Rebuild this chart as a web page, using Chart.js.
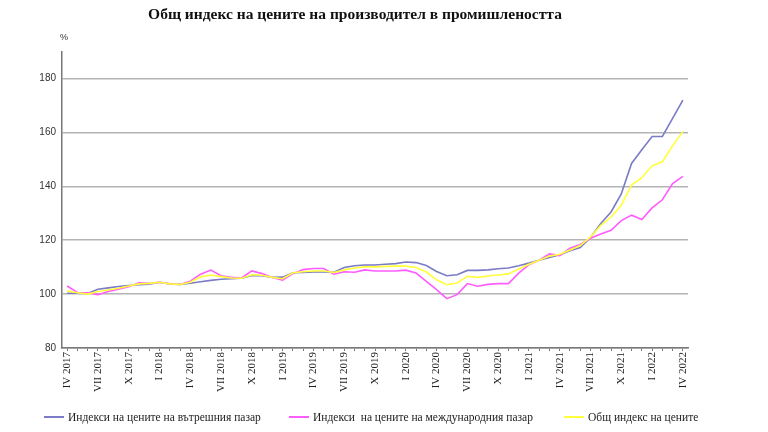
<!DOCTYPE html>
<html>
<head>
<meta charset="utf-8">
<script src="https://cdn.jsdelivr.net/npm/chart.js@4"></script>
<style>
  html, body { margin: 0; padding: 0; background: #fff; }
  #wrap { width: 768px; height: 432px; position: relative; }
  #legenda { position: absolute; left: 0; top: 409px; width: 768px; height: 18px;
             font: 11.5px "Liberation Serif"; color: #222; }
  .item { position: absolute; top: 0; white-space: nowrap; line-height: 16px; }
  .item i { display: inline-block; width: 20px; height: 2px; vertical-align: middle;
            margin-right: 4px; position: relative; top: -1px; }
</style>
</head>
<body>
<div id="wrap">
  <canvas id="chart"></canvas>
  <div id="legenda"></div>
</div>
<script>
// Месеци: IV 2017 ... IV 2022 (61 точки), етикет на всеки 3 месеца
const tickLabels = ['IV 2017', 'VII 2017', 'X 2017', 'I 2018', 'IV 2018', 'VII 2018', 'X 2018',
  'I 2019', 'IV 2019', 'VII 2019', 'X 2019', 'I 2020', 'IV 2020', 'VII 2020', 'X 2020',
  'I 2021', 'IV 2021', 'VII 2021', 'X 2021', 'I 2022', 'IV 2022'];

const vatreshen = [100.3, 100.3, 100.2, 101.8, 102.3, 102.8, 103.2, 103.5, 103.7, 104.4,
  103.8, 103.6, 104.0, 104.6, 105.1, 105.5, 105.7, 105.9, 106.9, 106.8,
  106.2, 106.3, 107.9, 108.0, 108.2, 108.2, 108.1, 109.9, 110.5, 110.8,
  110.8, 111.1, 111.3, 111.9, 111.7, 110.6, 108.4, 106.8, 107.2, 108.8,
  108.8, 109.0, 109.4, 109.7, 110.5, 111.5, 112.6, 113.6, 114.6, 116.1,
  117.3, 121.0, 126.2, 130.5, 137.2, 148.5, 153.6, 158.5, 158.5, 165.2, 172.0];

const mezhdunaroden = [103.0, 100.6, 100.5, 99.8, 101.0, 101.8, 102.7, 104.2, 104.0, 104.4,
  103.8, 103.6, 104.8, 107.4, 108.9, 106.8, 106.2, 106.0, 108.6, 107.6,
  106.2, 105.2, 107.6, 109.1, 109.5, 109.5, 107.4, 108.3, 108.1, 109.0,
  108.6, 108.6, 108.6, 108.9, 107.8, 104.7, 101.7, 98.3, 99.8, 103.9,
  102.9, 103.6, 103.9, 103.9, 107.8, 110.9, 112.6, 114.9, 114.3, 117.0,
  118.4, 120.7, 122.3, 123.7, 127.3, 129.3, 127.7, 132.0, 135.0, 141.0, 143.7];

const obsht = [101.2, 100.5, 100.0, 101.0, 101.5, 102.2, 103.0, 103.8, 104.0, 104.4,
  103.8, 103.6, 104.4, 106.4, 107.1, 106.5, 106.0, 105.9, 107.2, 107.0,
  106.2, 105.7, 107.9, 108.3, 108.6, 108.6, 108.0, 109.0, 109.7, 110.1,
  110.1, 110.3, 110.4, 110.4, 109.9, 108.2, 105.3, 103.5, 104.1, 106.6,
  106.2, 106.7, 107.1, 107.5, 109.3, 111.1, 112.6, 114.1, 114.8, 116.4,
  118.0, 121.2, 125.5, 128.6, 133.0, 140.5, 143.2, 147.6, 149.1, 155.0, 160.4];

const categories = vatreshen.map((v, i) => i % 3 === 0 ? tickLabels[i / 3] : '');

// знак "%" над оста
const procentPlugin = {
  id: 'procent',
  afterDraw(chart) {
    const ctx = chart.ctx;
    ctx.save();
    ctx.font = '9px "Liberation Sans"';
    ctx.fillStyle = '#333';
    ctx.textAlign = 'left';
    ctx.fillText('%', chart.chartArea.left - 2, 40);
    ctx.restore();
  }
};

function serija(label, data, color, order) {
  return {
    label, data, order,
    borderColor: color, backgroundColor: color,
    borderWidth: 1.6
  };
}

const chart = new Chart(document.getElementById('chart'), {
  type: 'line',
  data: {
    labels: categories,
    datasets: [
      serija('Индекси на цените на вътрешния пазар', vatreshen, '#7b7bc6', 2),
      serija('Индекси  на цените на международния пазар', mezhdunaroden, '#ff5cff', 1),
      serija('Общ индекс на цените', obsht, '#ffff3c', 0)
    ]
  },
  options: {
    responsive: true,
    maintainAspectRatio: false,
    animation: false,
    elements: {
      line: { tension: 0 },
      point: { radius: 0 }
    },
    layout: { padding: { left: 22, right: 80, top: 4, bottom: 28 } },
    plugins: {
      title: {
        display: true,
        text: 'Общ индекс на цените на производител в промишлеността',
        font: { family: 'Liberation Serif', size: 15.5, weight: 'bold' },
        color: '#111',
        padding: { top: 2, bottom: 27 }
      },
      legend: { display: false },
      tooltip: { enabled: false }
    },
    scales: {
      x: {
        offset: true,
        grid: { drawOnChartArea: false, drawTicks: true, tickLength: 3, color: '#777' },
        border: { color: '#777', width: 1.5 },
        ticks: {
          autoSkip: false,
          maxRotation: 90,
          minRotation: 90,
          padding: 1,
          color: '#222',
          font: { family: 'Liberation Serif', size: 11 }
        },
        afterFit(scale) { scale.height = 56; }
      },
      y: {
        min: 80,
        max: 190,
        ticks: {
          stepSize: 20,
          padding: 6,
          color: '#333',
          font: { family: 'Liberation Sans', size: 10 },
          callback: v => v === 190 ? '' : v
        },
        grid: {
          color: ctx => ctx.tick && ctx.tick.value === 190 ? 'rgba(0,0,0,0)' : '#b4b4b4',
          lineWidth: 1.5,
          tickLength: 0
        },
        border: { color: '#777', width: 1.5 },
        afterFit(scale) { scale.width = 40; }
      }
    }
  },
  plugins: [procentPlugin]
});

// легенда под графиката
const legendaX = [44, 289, 564];
const legenda = document.getElementById('legenda');
chart.data.datasets.forEach((ds, i) => {
  const el = document.createElement('span');
  el.className = 'item';
  el.style.left = legendaX[i] + 'px';
  el.innerHTML = '<i style="background:' + ds.borderColor + '"></i>' + ds.label.replace(/ /g, '&nbsp;');
  legenda.appendChild(el);
});
</script>
</body>
</html>
